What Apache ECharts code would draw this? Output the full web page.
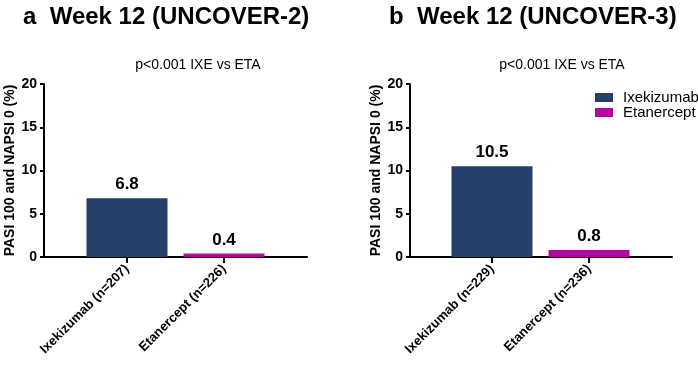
<!DOCTYPE html>
<html>
<head>
<meta charset="utf-8">
<script src="https://cdn.jsdelivr.net/npm/echarts@6/dist/echarts.min.js"></script>
<style>
  html, body { margin: 0; padding: 0; background: #fff; }
  #chart { width: 698px; height: 365px; }
</style>
</head>
<body>
<div id="chart"></div>
<script>
// data
const panelTitles = ['a  Week 12 (UNCOVER-2)', 'b  Week 12 (UNCOVER-3)']
const pText = 'p<0.001 IXE vs ETA'
const catsA = ['Ixekizumab (n=207)', 'Etanercept (n=226)']
const catsB = ['Ixekizumab (n=229)', 'Etanercept (n=236)']
const ixeValues = [6.8, 10.5]
const etaValues = [0.4, 0.8]
const yTicks = [0, 5, 10, 15, 20]
const yTitle = 'PASI 100 and NAPSI 0 (%)'

const NAVY = '#263f68'
const MAGENTA = '#b4079f'
const FONT = 'Arial, "Liberation Sans", sans-serif'

const chart = echarts.init(document.getElementById('chart'))

const plotTop = 84
const plotH = 173

// two grids per panel: one for the long axis line + y axis, one for the bars
const grids = [
  { left: 44, top: plotTop, width: 263, height: plotH },
  { left: 78.5, top: plotTop, width: 194, height: plotH },
  { left: 410, top: plotTop, width: 262, height: plotH },
  { left: 443.5, top: plotTop, width: 194, height: plotH },
]

function lineX(i) {
  return {
    type: 'value', gridIndex: i, min: 0, max: 1,
    axisLine: { show: true, lineStyle: { color: '#000', width: 2 } },
    axisTick: { show: false }, axisLabel: { show: false }, splitLine: { show: false },
  }
}
function catX(i, cats) {
  return {
    type: 'category', gridIndex: i, data: cats,
    axisLine: { show: false },
    axisTick: { show: true, alignWithLabel: true, length: 6, lineStyle: { color: '#000', width: 2 } },
    axisLabel: { rotate: 45, fontFamily: FONT, fontWeight: 'bold', fontSize: 13, color: '#000', margin: 10 },
  }
}
function valY(i, shown) {
  return {
    type: 'value', gridIndex: i, min: 0, max: 20, interval: 5, show: shown,
    name: yTitle, nameLocation: 'middle', nameGap: 24,
    nameTextStyle: { fontFamily: FONT, fontWeight: 'bold', fontSize: 14, color: '#000' },
    axisLine: { show: true, lineStyle: { color: '#000', width: 2 } },
    axisTick: { show: true, length: 4, lineStyle: { color: '#000', width: 2 } },
    axisLabel: { fontFamily: FONT, fontWeight: 'bold', fontSize: 14, color: '#000', margin: 7,
      formatter: v => yTicks.includes(v) ? String(v) : '' },
    splitLine: { show: false },
  }
}

const labelStyle = { show: true, position: 'top', distance: 5, fontFamily: FONT, fontWeight: 'bold', fontSize: 17, color: '#000' }

function barSeries(name, color, xi, values) {
  return {
    name: name, type: 'bar', xAxisIndex: xi, yAxisIndex: xi,
    data: values, barWidth: 81, barGap: '-100%',
    itemStyle: { color: color },
    label: labelStyle,
    silent: true,
  }
}

const option = {
  animation: false,
  title: [
    { text: panelTitles[0], left: 18, top: 0, textStyle: { fontFamily: FONT, fontWeight: 'bold', fontSize: 24, color: '#000' } },
    { text: panelTitles[1], left: 384, top: 0, textStyle: { fontFamily: FONT, fontWeight: 'bold', fontSize: 24, color: '#000' } },
    { text: pText, left: 193, top: 53, textAlign: 'center', textStyle: { fontFamily: FONT, fontWeight: 'normal', fontSize: 14, color: '#000' } },
    { text: pText, left: 557, top: 53, textAlign: 'center', textStyle: { fontFamily: FONT, fontWeight: 'normal', fontSize: 14, color: '#000' } },
  ],
  legend: {
    orient: 'vertical', left: 595, top: 90, padding: 0,
    itemWidth: 18, itemHeight: 9, itemGap: 0,
    icon: 'rect',
    textStyle: { fontFamily: FONT, fontSize: 15, color: '#000', padding: [0, 0, 0, 5] },
    data: ['Ixekizumab', 'Etanercept'],
  },
  grid: grids,
  xAxis: [lineX(0), catX(1, catsA), lineX(2), catX(3, catsB)],
  yAxis: [valY(0, true), valY(1, false), valY(2, true), valY(3, false)],
  series: [
    barSeries('Ixekizumab', NAVY, 1, [ixeValues[0], '-']),
    barSeries('Etanercept', MAGENTA, 1, ['-', etaValues[0]]),
    barSeries('Ixekizumab', NAVY, 3, [ixeValues[1], '-']),
    barSeries('Etanercept', MAGENTA, 3, ['-', etaValues[1]]),
  ],
}

chart.setOption(option)
</script>
</body>
</html>
